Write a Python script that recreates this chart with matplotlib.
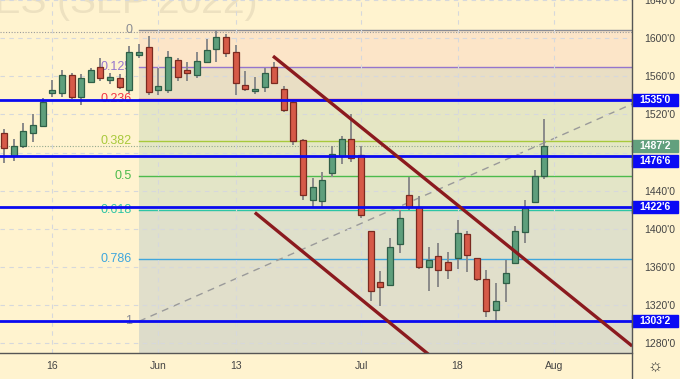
import matplotlib
matplotlib.use("Agg")
import matplotlib.pyplot as plt
from matplotlib.lines import Line2D
from matplotlib.patches import Rectangle
from matplotlib.transforms import blended_transform_factory
from matplotlib.ticker import FuncFormatter

plt.rcParams['font.family'] = ['Liberation Sans', 'DejaVu Sans']

# daily candles, 9 May .. 29 Jul 2022 (trading days)
opens = [1501, 1476, 1487, 1501, 1508, 1543, 1543, 1561, 1538, 1554, 1570, 1556, 1558, 1546, 1582,
         1591, 1546, 1546, 1577, 1567, 1561, 1575, 1589, 1601, 1585, 1551, 1545, 1549, 1570, 1547,
         1533, 1493, 1430, 1429, 1459, 1476, 1494, 1478, 1398, 1344, 1341, 1384, 1436, 1423, 1360,
         1372, 1365, 1370, 1395, 1370, 1348, 1315, 1343, 1364, 1397, 1428, 1456]
highs = [1505, 1494, 1511, 1520, 1537, 1556, 1567, 1563, 1562, 1569, 1579, 1564, 1562, 1592, 1594,
         1602, 1569, 1587, 1579, 1575, 1585, 1599, 1607, 1604, 1593, 1566, 1559, 1569, 1575, 1550,
         1534, 1494, 1453, 1460, 1487, 1497, 1520, 1487, 1398, 1356, 1391, 1420, 1454, 1435, 1381,
         1385, 1376, 1409, 1398, 1370, 1357, 1343, 1367, 1403, 1430, 1462, 1515]
lows = [1469, 1471, 1485, 1491, 1507, 1538, 1538, 1536, 1530, 1553, 1555, 1552, 1547, 1542, 1579,
        1540, 1540, 1542, 1555, 1555, 1558, 1574, 1575, 1580, 1540, 1545, 1541, 1544, 1552, 1523,
        1488, 1430, 1423, 1423, 1454, 1468, 1470, 1412, 1325, 1319, 1340, 1375, 1420, 1358, 1335,
        1339, 1348, 1358, 1355, 1345, 1308, 1303.25, 1323, 1363, 1385, 1427, 1452]
closes = [1485, 1487, 1503, 1509, 1533, 1546, 1561, 1538, 1558, 1567, 1558, 1559, 1549, 1585, 1585,
          1544, 1550, 1580, 1559, 1563, 1576, 1588, 1601, 1584, 1553, 1547, 1546, 1563, 1553, 1525,
          1492, 1436, 1444, 1451, 1479, 1494, 1474, 1415, 1335, 1339, 1381, 1412, 1423, 1360, 1368,
          1357, 1357, 1396, 1373, 1348, 1314, 1325, 1354, 1398, 1422, 1456, 1487.25]

date_ticks = [5, 16, 24, 37, 47, 57]
date_labels = ['16', 'Jun', '13', 'Jul', '18', 'Aug']

# fibonacci retracement
fib_start = 14
fib_high = 1608.25
fib_low = 1303.25
fib_levels = [0, 0.125, 0.236, 0.382, 0.5, 0.618, 0.786, 1]
fib_labels = ['0', '0.125', '0.236', '0.382', '0.5', '0.618', '0.786', '1']
fib_colors = ['#8a8c94', '#9575cd', '#f23645', '#a8c93c', '#4cbb4c', '#2ec4a5', '#3ea6dd', '#8a8c94']
zone_colors = ['#fce5c8', '#e9dec4', '#e5e6c4', '#e4e7c5', '#e3e5c7', '#dfe0cb', '#e1dfcb']
below_color = '#dddcca'

# horizontal levels
levels = [1535.0, 1476.75, 1422.75, 1303.25]
level_labels = ["1535'0", "1476'6", "1422'6", "1303'2"]
last_price = 1487.25

# channel lines and fib trend line
upper_x = [27.88, 65.1]
upper_y = [1581.2, 1277.3]
lower_x = [26.0, 45.0]
lower_y = [1417.2, 1260.3]
trend_x = [14.0, 65.1]
trend_y = [1303.25, 1531.0]

bg = '#fff3cf'
W, H = 680, 379
fig = plt.figure(figsize=(W / 100, H / 100), dpi=100, facecolor=bg)
ax = fig.add_axes([0, 26 / H, 632 / W, 353 / H])
ax.set_facecolor(bg)
xmin, xmax = -0.41, 65.08
ax.set_xlim(xmin, xmax)
ax.set_ylim(1270, 1638.6)
for s in ax.spines.values():
    s.set_visible(False)

# watermark
ax.text(26.3, 1626, 'SOYBEAN FUTURES (SEP 2022)', ha='right', va='baseline',
        fontsize=28, color='#ede1c0', zorder=0)

# grid
ax.set_yticks(list(range(1280, 1641, 40)))
ax.set_xticks(date_ticks)
ax.set_xticklabels(date_labels)
ax.grid(True, color='#d6d8dc', linestyle=(0, (4, 4)), linewidth=0.8, zorder=0.5)
ax.tick_params(axis='x', length=0, pad=6, labelsize=7.5, labelcolor='#444444')
ax.tick_params(axis='y', length=0, left=False, labelleft=False, right=False, labelright=True,
               pad=9, labelsize=7.5, labelcolor='#444444')
ax.yaxis.set_major_formatter(FuncFormatter(lambda v, p: '' if v == 1480 else "%d'0" % v))

# fib zones
prices = [fib_high - f * (fib_high - fib_low) for f in fib_levels]
xs = [fib_start, xmax + 1]
for i in range(len(prices) - 1):
    ax.fill_between(xs, prices[i + 1], prices[i], color=zone_colors[i], lw=0, zorder=0.2)
ax.fill_between(xs, 1200, prices[-1], color=below_color, lw=0, zorder=0.2)
for p, lab, c in zip(prices, fib_labels, fib_colors):
    ax.plot(xs, [p, p], color=c, lw=1, zorder=1)
    ax.annotate(lab, xy=(fib_start, p), xytext=(-5, 0), textcoords='offset points',
                ha='right', va='center', fontsize=9, color=c)
ax.axhline(fib_high - 1.8, color='#9a9a9a', lw=0.8, ls=(0, (1, 1.5)), zorder=1)
ax.axhline(last_price, color='#93a88e', lw=0.8, ls=(0, (1, 1.5)), zorder=1)

ax.plot(trend_x, trend_y, color='#9a9a9a', lw=1, ls=(0, (5, 4)), zorder=1.2)

# candles
for i in range(len(opens)):
    o, h, l, c = opens[i], highs[i], lows[i], closes[i]
    up = c >= o
    fc = '#5e9f7c' if up else '#d65a48'
    ec = '#2f5f47' if up else '#7a2a20'
    ax.vlines(i, l, h, color='#8a8a8a', lw=1.4, zorder=2)
    ax.bar(i, max(abs(c - o), 1.2), bottom=min(o, c), width=0.62, color=fc,
           edgecolor=ec, linewidth=0.9, zorder=3)

# blue levels
for p in levels:
    ax.axhline(p, color='#0a0af0', lw=2, zorder=4)

# channel
ax.plot(upper_x, upper_y, color='#8b1a1e', lw=2.4, zorder=5, solid_capstyle='butt')
ax.plot(lower_x, lower_y, color='#8b1a1e', lw=2.4, zorder=5, solid_capstyle='butt')

# price scale boxes
tr = blended_transform_factory(ax.transAxes, ax.transData)
box_w = 46 / 632
half_h = 6.3
shift = {"1476'6": -5.0}
def price_box(p, text, color):
    y = p + shift.get(text, 0)
    ax.add_patch(Rectangle((1.0, y - half_h), box_w, 2 * half_h, transform=tr,
                           color=color, clip_on=False, zorder=6))
    ax.text(1.0 + box_w / 2, y, text, transform=tr, ha='center', va='center',
            fontsize=7.5, color='white', fontweight='bold', clip_on=False, zorder=7)

for p, t in zip(levels, level_labels):
    price_box(p, t, '#0a0af5')
price_box(last_price, "1487'2", '#62a07e')

# frame lines
fig.add_artist(Line2D([632 / W, 632 / W], [0, 1], color='#555555', lw=1))
fig.add_artist(Line2D([0, 632 / W], [26 / H, 26 / H], color='#555555', lw=1))
fig.text(655 / W, 1 - 366 / H, '\u263c', ha='center', va='center', fontsize=12, color='#333333')

fig.savefig('out.png', dpi=100, facecolor=bg)
